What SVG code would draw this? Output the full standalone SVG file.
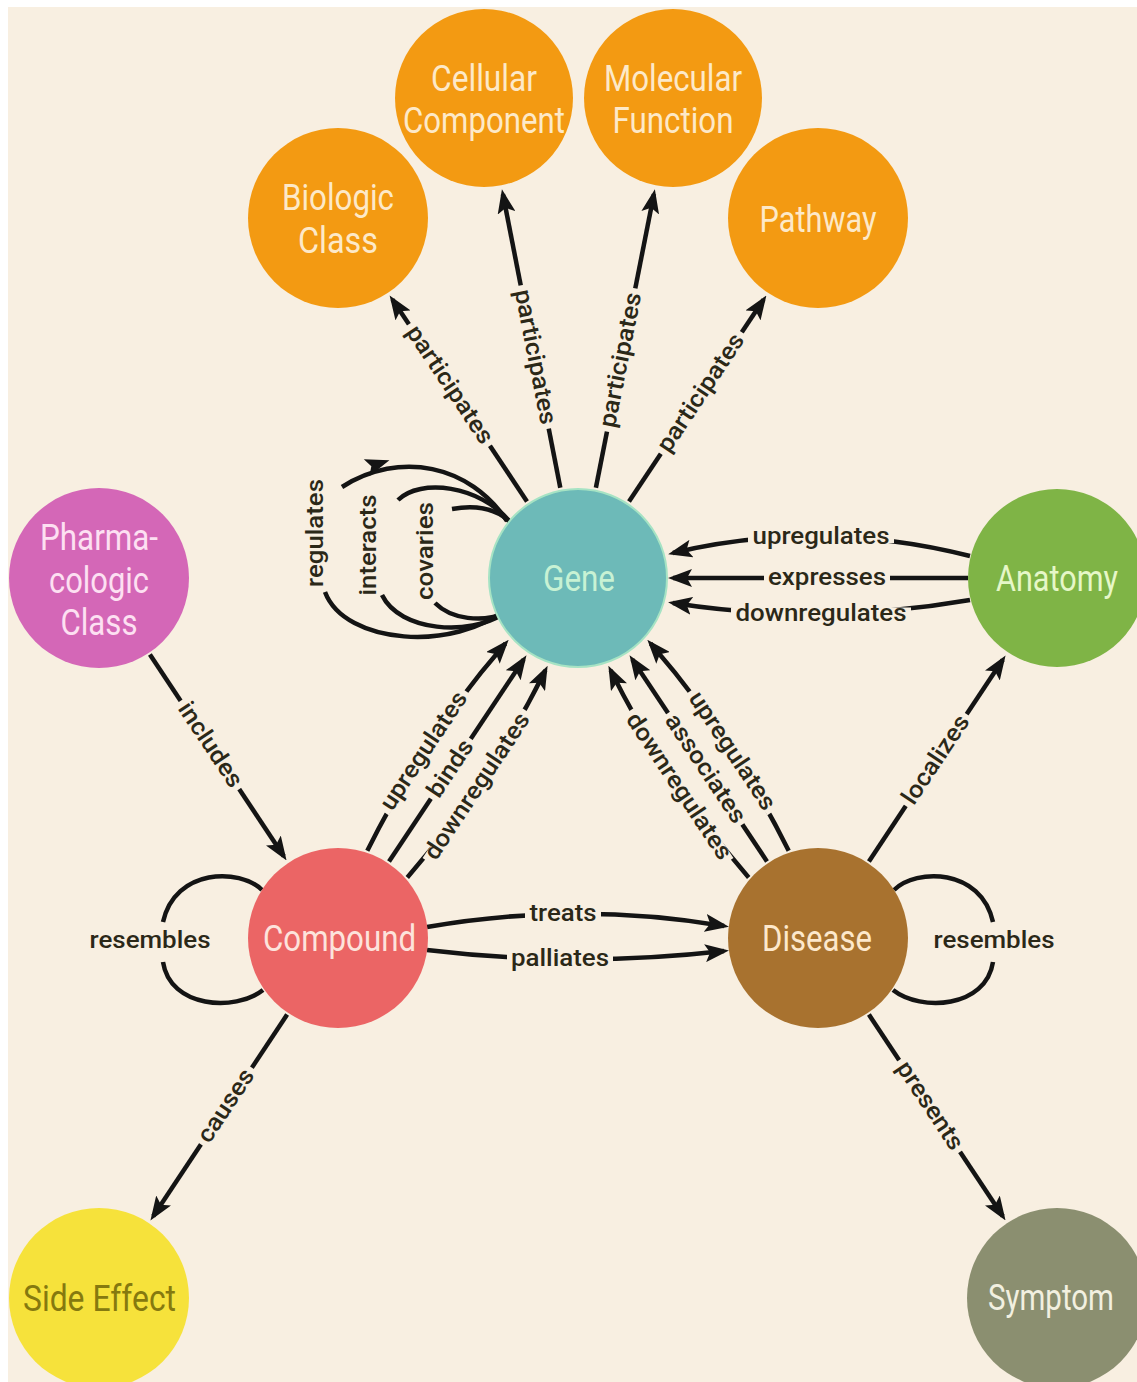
<svg xmlns="http://www.w3.org/2000/svg" width="1137" height="1382" viewBox="0 0 1137 1382">
<defs>
<style>
.e{fill:none;stroke:#141414;stroke-width:4.5}
.a{marker-end:url(#ah)}
.lb{font-family:Roboto,"Liberation Sans",sans-serif;font-size:24px;font-weight:500;fill:#2b2818;text-anchor:middle}
.gap{fill:#f8efe1}
.nt{font-family:Roboto,"Liberation Sans",sans-serif;font-size:36px;text-anchor:middle}
.or{fill:#f39a12}
.ot{fill:#fde9c8}
</style>
<marker id="ah" viewBox="0 0 24 18" refX="19" refY="9" markerWidth="24" markerHeight="18" markerUnits="userSpaceOnUse" orient="auto"><path d="M0,0 L24,9 L0,18 L5,9 z" fill="#141414"/></marker>
</defs>
<rect x="0" y="0" width="1137" height="1382" fill="#ffffff"/>
<rect x="8" y="7" width="1129" height="1375" fill="#f8efe1"/>

<g id="connectors">
  <!-- Gene participates -->
  <path class="e a" d="M527,501.4 L392.4,299.6"/>
  <path class="e a" d="M560.3,487.7 L502.9,194.2"/>
  <path class="e a" d="M595.9,487.7 L653.9,194.1"/>
  <path class="e a" d="M629,501.4 L763.6,299.6"/>
  <!-- Gene self loops -->
  <path class="e" d="M342,487 C400,450 470,465 507,521"/>
  <path class="e" d="M325,592 C345,645 455,652 507,608"/>
  <path class="e" d="M398,500 C420,478 480,485 510,522"/>
  <path class="e" d="M382,595 C400,632 470,636 503,614"/>
  <path class="e" d="M452,509 C475,505 497,508 512,524"/>
  <path class="e" d="M435,603 C452,620 482,622 505,614"/>
  <path d="M12,0 L-12,-9 L-7,0 L-12,9 z" fill="#141414" transform="translate(378,464) rotate(-18)"/>
  <!-- Anatomy to Gene -->
  <path class="e a" d="M970,556 Q820,518 673,553"/>
  <path class="e a" d="M968,578 L673,578"/>
  <path class="e a" d="M970,600 Q820,626 673,603"/>
  <!-- Compound to Gene -->
  <path class="e a" d="M367.3,850.8 Q423,738.3 505.4,643.6"/>
  <path class="e a" d="M389,861.4 L523.7,659.5"/>
  <path class="e a" d="M407.3,877.4 Q489.7,782.7 545.4,670.2"/>
  <!-- Disease to Gene -->
  <path class="e a" d="M788.7,850.8 Q733,738.3 650.6,643.6"/>
  <path class="e a" d="M767,861.4 L632.3,659.5"/>
  <path class="e a" d="M748.7,877.4 Q666.3,782.7 610.6,670.2"/>
  <!-- Pharmacologic class includes Compound -->
  <path class="e a" d="M149.9,654.6 L283.8,856.3"/>
  <!-- Compound causes Side Effect -->
  <path class="e a" d="M287.1,1014.6 L153.2,1216.3"/>
  <!-- Disease presents Symptom -->
  <path class="e a" d="M868.9,1014.6 L1002.8,1216.3"/>
  <!-- Disease localizes Anatomy -->
  <path class="e a" d="M868.9,861.4 L1002.8,659.7"/>
  <!-- Compound treats / palliates Disease -->
  <path class="e a" d="M427,927 Q576,901 724,926"/>
  <path class="e a" d="M427,950 Q576,968 724,951"/>
  <!-- resembles loops -->
  <path class="e" d="M262,890 C240,868 175,868 163,922"/>
  <path class="e" d="M163,962 C170,1008 235,1012 263,990"/>
  <path class="e" d="M894,890 C916,868 981,868 993,922"/>
  <path class="e" d="M993,962 C986,1008 921,1012 893,990"/>

  <!-- labels -->
  <g transform="translate(449.4,385) rotate(56.3)"><rect class="gap" x="-73" y="-6" width="146" height="12"/><text class="lb" y="7" textLength="137" lengthAdjust="spacingAndGlyphs">participates</text></g>
  <g transform="translate(534.7,357) rotate(78.9)"><rect class="gap" x="-73" y="-6" width="146" height="12"/><text class="lb" y="7" textLength="137" lengthAdjust="spacingAndGlyphs">participates</text></g>
  <g transform="translate(621.2,360) rotate(-78.8)"><rect class="gap" x="-73" y="-6" width="146" height="12"/><text class="lb" y="7" textLength="137" lengthAdjust="spacingAndGlyphs">participates</text></g>
  <g transform="translate(701.3,393) rotate(-56.3)"><rect class="gap" x="-73" y="-6" width="146" height="12"/><text class="lb" y="7" textLength="137" lengthAdjust="spacingAndGlyphs">participates</text></g>

  <g transform="translate(316,533) rotate(-90)"><text class="lb" y="7" textLength="108" lengthAdjust="spacingAndGlyphs">regulates</text></g>
  <g transform="translate(369,545) rotate(-90)"><text class="lb" y="7" textLength="101" lengthAdjust="spacingAndGlyphs">interacts</text></g>
  <g transform="translate(426,551) rotate(-90)"><text class="lb" y="7" textLength="98" lengthAdjust="spacingAndGlyphs">covaries</text></g>

  <g transform="translate(821,537)"><rect class="gap" x="-73" y="-6" width="146" height="12"/><text class="lb" y="7" textLength="137" lengthAdjust="spacingAndGlyphs">upregulates</text></g>
  <g transform="translate(827,578)"><rect class="gap" x="-63" y="-6" width="126" height="12"/><text class="lb" y="7" textLength="118" lengthAdjust="spacingAndGlyphs">expresses</text></g>
  <g transform="translate(821,613.5)"><rect class="gap" x="-90" y="-6" width="180" height="12"/><text class="lb" y="7" textLength="171" lengthAdjust="spacingAndGlyphs">downregulates</text></g>

  <g transform="translate(424.2,751.1) rotate(-56.3)"><rect class="gap" x="-73" y="-6" width="146" height="12"/><text class="lb" y="7" textLength="137" lengthAdjust="spacingAndGlyphs">upregulates</text></g>
  <g transform="translate(450.9,768.8) rotate(-56.3)"><rect class="gap" x="-36" y="-6" width="72" height="12"/><text class="lb" y="7" textLength="64" lengthAdjust="spacingAndGlyphs">binds</text></g>
  <g transform="translate(477.5,786.5) rotate(-56.3)"><rect class="gap" x="-90" y="-6" width="180" height="12"/><text class="lb" y="7" textLength="171" lengthAdjust="spacingAndGlyphs">downregulates</text></g>

  <g transform="translate(731.8,751.1) rotate(56.3)"><rect class="gap" x="-73" y="-6" width="146" height="12"/><text class="lb" y="7" textLength="137" lengthAdjust="spacingAndGlyphs">upregulates</text></g>
  <g transform="translate(705.1,768.8) rotate(56.3)"><rect class="gap" x="-67" y="-6" width="134" height="12"/><text class="lb" y="7" textLength="126" lengthAdjust="spacingAndGlyphs">associates</text></g>
  <g transform="translate(678.5,786.5) rotate(56.3)"><rect class="gap" x="-90" y="-6" width="180" height="12"/><text class="lb" y="7" textLength="171" lengthAdjust="spacingAndGlyphs">downregulates</text></g>

  <g transform="translate(209.9,745) rotate(56.4)"><rect class="gap" x="-53" y="-6" width="106" height="12"/><text class="lb" y="7" textLength="97" lengthAdjust="spacingAndGlyphs">includes</text></g>
  <g transform="translate(226.4,1106) rotate(-56.4)"><rect class="gap" x="-46" y="-6" width="92" height="12"/><text class="lb" y="7" textLength="83" lengthAdjust="spacingAndGlyphs">causes</text></g>
  <g transform="translate(929.6,1106) rotate(56.4)"><rect class="gap" x="-55" y="-6" width="110" height="12"/><text class="lb" y="7" textLength="101" lengthAdjust="spacingAndGlyphs">presents</text></g>
  <g transform="translate(936.2,760) rotate(-56.4)"><rect class="gap" x="-55" y="-6" width="110" height="12"/><text class="lb" y="7" textLength="102" lengthAdjust="spacingAndGlyphs">localizes</text></g>

  <g transform="translate(563,914)"><rect class="gap" x="-38" y="-6" width="76" height="12"/><text class="lb" y="7" textLength="67" lengthAdjust="spacingAndGlyphs">treats</text></g>
  <g transform="translate(560,959)"><rect class="gap" x="-53" y="-6" width="106" height="12"/><text class="lb" y="7" textLength="98" lengthAdjust="spacingAndGlyphs">palliates</text></g>

  <g transform="translate(150,941)"><text class="lb" y="7" textLength="121" lengthAdjust="spacingAndGlyphs">resembles</text></g>
  <g transform="translate(994,941)"><text class="lb" y="7" textLength="121" lengthAdjust="spacingAndGlyphs">resembles</text></g>
</g>

<g id="node-biologic-class">
  <circle class="or" cx="338" cy="218" r="90"/>
  <text class="nt ot" x="338" y="210" textLength="112" lengthAdjust="spacingAndGlyphs">Biologic</text>
  <text class="nt ot" x="338" y="253" textLength="80" lengthAdjust="spacingAndGlyphs">Class</text>
</g>
<g id="node-cellular-component">
  <circle class="or" cx="484" cy="98" r="89"/>
  <text class="nt ot" x="484" y="91" textLength="106" lengthAdjust="spacingAndGlyphs">Cellular</text>
  <text class="nt ot" x="484" y="133" textLength="162" lengthAdjust="spacingAndGlyphs">Component</text>
</g>
<g id="node-molecular-function">
  <circle class="or" cx="673" cy="98" r="89"/>
  <text class="nt ot" x="673" y="91" textLength="138" lengthAdjust="spacingAndGlyphs">Molecular</text>
  <text class="nt ot" x="673" y="133" textLength="121" lengthAdjust="spacingAndGlyphs">Function</text>
</g>
<g id="node-pathway">
  <circle class="or" cx="818" cy="218" r="90"/>
  <text class="nt ot" x="818" y="232" textLength="117" lengthAdjust="spacingAndGlyphs">Pathway</text>
</g>
<g id="node-pharmacologic-class">
  <circle cx="99" cy="578" r="90" fill="#d467b7"/>
  <text class="nt" fill="#fde0f2" x="99" y="550" textLength="118" lengthAdjust="spacingAndGlyphs">Pharma-</text>
  <text class="nt" fill="#fde0f2" x="99" y="593" textLength="100" lengthAdjust="spacingAndGlyphs">cologic</text>
  <text class="nt" fill="#fde0f2" x="99" y="635" textLength="77" lengthAdjust="spacingAndGlyphs">Class</text>
</g>
<g id="node-gene">
  <circle cx="578" cy="578" r="89" fill="#6dbab8" stroke="#a6e3c4" stroke-width="2"/>
  <text class="nt" fill="#c8f2d4" x="579" y="591" textLength="72" lengthAdjust="spacingAndGlyphs">Gene</text>
</g>
<g id="node-anatomy">
  <circle cx="1057" cy="578" r="89" fill="#7fb446"/>
  <text class="nt" fill="#e6f7c8" x="1057" y="591" textLength="122" lengthAdjust="spacingAndGlyphs">Anatomy</text>
</g>
<g id="node-compound">
  <circle cx="338" cy="938" r="90" fill="#eb6565"/>
  <text class="nt" fill="#fde3dc" x="339.5" y="951" textLength="153" lengthAdjust="spacingAndGlyphs">Compound</text>
</g>
<g id="node-disease">
  <circle cx="818" cy="938" r="90" fill="#a8722f"/>
  <text class="nt" fill="#fde8cc" x="817" y="951" textLength="110" lengthAdjust="spacingAndGlyphs">Disease</text>
</g>
<g id="node-side-effect">
  <circle cx="99" cy="1298" r="90" fill="#f6e23b"/>
  <text class="nt" fill="#85790f" x="99.5" y="1311" textLength="153" lengthAdjust="spacingAndGlyphs">Side Effect</text>
</g>
<g id="node-symptom">
  <circle cx="1057" cy="1298" r="90" fill="#8b8f70"/>
  <text class="nt" fill="#f2f0e0" x="1051" y="1310" textLength="126" lengthAdjust="spacingAndGlyphs">Symptom</text>
</g>
</svg>
